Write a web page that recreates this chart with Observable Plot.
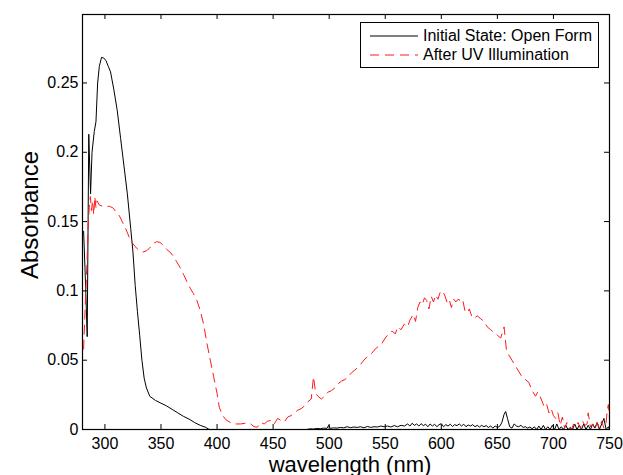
<!DOCTYPE html>
<html>
<head>
<meta charset="utf-8">
<script src="https://cdn.jsdelivr.net/npm/d3@7"></script>
<script src="https://cdn.jsdelivr.net/npm/@observablehq/plot@0.6"></script>
<style>
  html, body { margin: 0; padding: 0; background: white; }
  #wrap { position: relative; width: 623px; height: 475px; overflow: hidden; }
  #legend { position: absolute; left: 360px; top: 22px; width: 237px; height: 44px; border: 1px solid black; background: white;
    font-family: "Liberation Sans", Arial, Helvetica, sans-serif; font-size: 16px; color: black; }
  #legend .row { position: absolute; left: 0; height: 20px; display: flex; align-items: center; white-space: nowrap; }
  #legend svg { margin-left: 9px; margin-right: 5px; }
</style>
</head>
<body>
<div id="wrap"></div>
<script>
// ---- data ----
const seriesNames = ["Initial State: Open Form", "After UV Illumination"];

const xTicks = [300, 350, 400, 450, 500, 550, 600, 650, 700, 750];
const yTicks = [0, 0.05, 0.1, 0.15, 0.2, 0.25];
const yTickLabels = ["0", "0.05", "0.1", "0.15", "0.2", "0.25"];

// Initial state (open form)
const openWl = [281, 282.5, 284.2, 285.6, 287.2, 288.5, 290.5, 292, 293.5, 295, 297, 299, 301, 303, 305, 308, 311, 314, 317, 320,
  323, 325, 327, 329, 331, 333, 335, 337, 340, 345, 350, 355, 360, 365, 370, 375, 380, 385, 390, 393, 400, 480,
  483, 486, 489, 492, 495, 498, 499.5, 501, 504, 507, 510, 513, 516, 519, 522, 525, 528, 531, 534, 537, 540, 543, 546, 549,
  552, 555, 558, 561, 564, 567, 570, 572, 574, 576, 578, 580, 582, 584, 586, 588, 590, 592, 594, 596, 598, 600,
  602, 604, 606, 608, 610, 612, 614, 616, 618, 620, 622, 624, 626, 628, 630, 632, 634, 636, 638, 640, 642, 644,
  646, 648, 650, 652, 654, 656, 657.4, 659, 661, 663, 665, 667, 669, 671, 673, 675, 677, 679, 681, 683, 685, 687,
  689, 691, 693, 695, 697, 699, 701, 703, 705, 707, 709, 711, 713, 715, 717, 719, 721, 723, 725, 727, 729, 731,
  733, 735, 737, 739, 741, 743, 745, 747, 749, 750];
const openAbs = [0.143, 0.11, 0.067, 0.213, 0.17, 0.2, 0.215, 0.222, 0.25, 0.262, 0.2685, 0.268, 0.266, 0.262, 0.258, 0.245, 0.23, 0.21, 0.19, 0.17,
  0.145, 0.128, 0.104, 0.085, 0.068, 0.05, 0.037, 0.03, 0.024, 0.021, 0.019, 0.017, 0.0145, 0.012, 0.0095, 0.0075, 0.005, 0.003, 0.0015, 0, 0, 0,
  0.0005, 0.0003, 0.0008, 0.0005, 0.001, 0.0008, 0.003, 0.0008, 0.0012, 0.001, 0.0015, 0.0012, 0.002, 0.0013, 0.0018, 0.0015, 0.002, 0.0012, 0.0022, 0.0015, 0.002, 0.0018, 0.0025, 0.002,
  0.0025, 0.0018, 0.0028, 0.002, 0.003, 0.0025, 0.004, 0.0025, 0.0045, 0.003, 0.004, 0.0025, 0.0042, 0.0028, 0.0038, 0.002, 0.004, 0.0025, 0.0038, 0.002, 0.0035, 0.0042,
  0.002, 0.0035, 0.0025, 0.0038, 0.0022, 0.0035, 0.0028, 0.004, 0.0025, 0.0038, 0.002, 0.0033, 0.0025, 0.0035, 0.002, 0.003, 0.0018, 0.003, 0.002, 0.0028, 0.0015, 0.0025,
  0.001, 0.0025, 0.0015, 0.0022, 0.005, 0.011, 0.013, 0.008, 0.002, 0.001, 0.004, 0.0025, 0.002, 0.003, 0.0015, 0.002, 0.001, 0.0018, 0.0005, 0.002, 0, 0.0025,
  0, 0.003, 0, 0.002, 0, 0.003, 0, 0.004, 0, 0.002, 0, 0.003, 0, 0.0015, 0, 0.004, 0, 0.003, 0, 0.004, 0, 0.003,
  0, 0.004, 0.001, 0.005, 0, 0.004, 0.008, 0, 0.002, 0];

// After UV illumination
const uvWl = [281, 282, 283, 284, 285, 286, 287, 288, 289, 290, 291, 292, 293, 295, 298, 301, 304, 307, 310, 313, 316, 319,
  322, 325, 328, 331, 334, 337, 340, 343, 346, 349, 352, 355, 358, 361, 364, 367, 370, 373, 376, 379, 382, 385, 388,
  391, 394, 397, 400, 402, 405, 408, 412, 416, 421, 425, 430, 433, 436, 439, 442, 445, 448, 451, 454, 457, 460, 463,
  466, 469, 472, 475, 478, 481, 484, 486, 488, 490, 493, 496, 499, 502, 505, 508, 511, 514, 517, 520, 523, 526, 529,
  532, 535, 538, 541, 544, 547, 550, 553, 556, 559, 561, 564, 567, 570, 572, 575, 577, 579, 581, 583, 585, 587, 589,
  591, 593, 595, 597, 599, 601, 603, 605, 607, 609, 611, 613, 615, 617, 619, 621, 623, 625, 627, 629, 632, 635, 638,
  641, 644, 647, 650, 653, 656, 658, 660, 663, 666, 669, 672, 675, 678, 681, 684, 686, 688, 690, 692, 694, 696, 698,
  700, 702, 704, 706, 708, 710, 712, 714, 716, 718, 720, 722, 724, 726, 728, 730, 731, 733, 735, 737, 739, 741, 743,
  745, 747, 748, 749, 750];
const uvAbs = [0.058, 0.08, 0.1, 0.12, 0.145, 0.16, 0.168, 0.158, 0.165, 0.155, 0.168, 0.16, 0.165, 0.162, 0.161, 0.161, 0.161, 0.16, 0.157, 0.154, 0.149, 0.144,
  0.138, 0.134, 0.131, 0.129, 0.128, 0.129, 0.131, 0.134, 0.1355, 0.135, 0.133, 0.13, 0.128, 0.125, 0.121, 0.117, 0.112, 0.107, 0.102, 0.098, 0.093, 0.086, 0.076,
  0.062, 0.05, 0.038, 0.026, 0.016, 0.01, 0.007, 0.005, 0.004, 0.004, 0.0045, 0.004, 0.002, 0.0017, 0.005, 0.004, 0.006, 0.0065, 0.004, 0.008, 0.0065, 0.0055, 0.009,
  0.01, 0.012, 0.014, 0.015, 0.017, 0.02, 0.022, 0.038, 0.026, 0.024, 0.022, 0.024, 0.027, 0.028, 0.03, 0.033, 0.035, 0.036, 0.038, 0.041, 0.043, 0.045, 0.048,
  0.051, 0.053, 0.055, 0.058, 0.06, 0.062, 0.066, 0.069, 0.071, 0.069, 0.074, 0.072, 0.076, 0.074, 0.079, 0.083, 0.078, 0.088, 0.092, 0.09, 0.095, 0.093, 0.087,
  0.096, 0.092, 0.097, 0.094, 0.099, 0.1, 0.097, 0.092, 0.094, 0.088, 0.094, 0.092, 0.094, 0.093, 0.094, 0.086, 0.084, 0.087, 0.082, 0.08, 0.082, 0.08, 0.078,
  0.074, 0.072, 0.07, 0.068, 0.066, 0.074, 0.058, 0.054, 0.05, 0.046, 0.042, 0.038, 0.036, 0.034, 0.028, 0.024, 0.027, 0.024, 0.02, 0.016, 0.018, 0.012, 0.015,
  0.01, 0.008, 0.012, 0.003, 0.009, 0.001, 0.005, 0.002, 0, 0.004, 0.002, 0.005, 0.001, 0.006, 0.003, 0.004, 0.012, 0.002, 0.004, 0, 0.005, 0.001, 0.006,
  0.001, 0.005, 0.014, 0.018, 0.008];

// ---- build ----
const openData = openWl.map((w, i) => ({w, a: openAbs[i]}));
const uvData = uvWl.map((w, i) => ({w, a: uvAbs[i]}));

const xDomain = [280, 750];
const yDomain = [0, 0.2994];
const W = 623, H = 475, mL = 82, mR = 14, mT = 14, mB = 46;
const tickPx = 5;
const xPerPx = (xDomain[1] - xDomain[0]) / (W - mL - mR);
const yPerPx = (yDomain[1] - yDomain[0]) / (H - mT - mB);
const font = "'Liberation Sans', Arial, Helvetica, sans-serif";
const red = "#ff1a1a";

const chart = Plot.plot({
  width: W, height: H,
  marginLeft: mL, marginRight: mR, marginTop: mT, marginBottom: mB,
  style: {fontFamily: font, fontSize: "16px", color: "black", background: "white"},
  x: {domain: xDomain},
  y: {domain: yDomain},
  marks: [
    Plot.axisX(xTicks, {tickSize: 0, tickPadding: 8, label: null, fontSize: 16, tickFormat: d => String(d)}),
    Plot.axisY(yTicks, {tickSize: 0, tickPadding: 4, label: null, fontSize: 16, tickFormat: (d, i) => yTickLabels[i]}),
    Plot.line(openData, {x: "w", y: "a", stroke: "black", strokeWidth: 1, clip: true}),
    Plot.line(uvData, {x: "w", y: "a", stroke: red, strokeWidth: 1, strokeDasharray: "9,6", clip: true}),
    // inward ticks on all four sides
    Plot.ruleX(xTicks, {y1: yDomain[0], y2: yDomain[0] + tickPx * yPerPx, stroke: "black"}),
    Plot.ruleX(xTicks, {y1: yDomain[1] - tickPx * yPerPx, y2: yDomain[1], stroke: "black"}),
    Plot.ruleY(yTicks, {x1: xDomain[0], x2: xDomain[0] + tickPx * xPerPx, stroke: "black"}),
    Plot.ruleY(yTicks, {x1: xDomain[1] - tickPx * xPerPx, x2: xDomain[1], stroke: "black"}),
    Plot.frame({stroke: "black", strokeWidth: 1.2}),
    Plot.text(["wavelength (nm)"], {frameAnchor: "bottom", dy: 35, fontSize: 22, lineAnchor: "middle", dx: 4}),
    Plot.text(["Absorbance"], {frameAnchor: "left", textAnchor: "middle", dx: -52, dy: -7, rotate: -90, fontSize: 24})
  ]
});

const wrap = document.getElementById("wrap");
wrap.appendChild(chart);

// legend
const legend = document.createElement("div");
legend.id = "legend";
const styles = [{stroke: "black", dash: null}, {stroke: red, dash: "9,6"}];
seriesNames.forEach((name, i) => {
  const row = document.createElement("div");
  row.className = "row";
  row.style.top = (3 + i * 19) + "px";
  const dash = styles[i].dash ? `stroke-dasharray="${styles[i].dash}"` : "";
  row.innerHTML = `<svg width="48" height="10"><line x1="0" y1="5" x2="48" y2="5" stroke="${styles[i].stroke}" stroke-width="1" ${dash}/></svg><span>${name}</span>`;
  legend.appendChild(row);
});
wrap.appendChild(legend);
</script>
</body>
</html>
